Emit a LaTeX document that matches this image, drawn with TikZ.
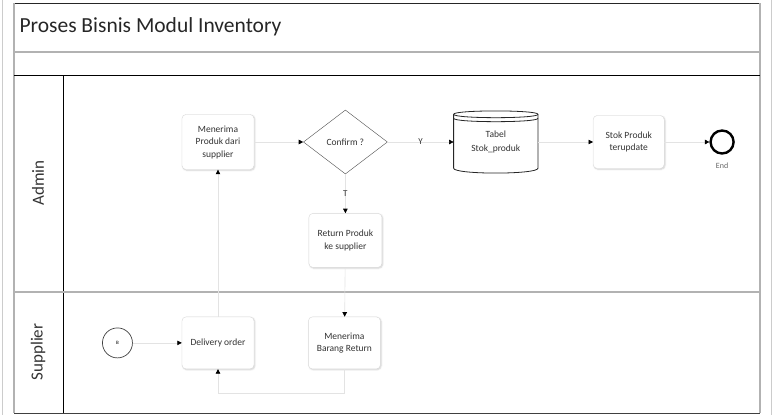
\documentclass[tikz,border=0pt]{standalone}
\usepackage{fontspec}
\setmainfont{Carlito}
\usetikzlibrary{positioning,calc,arrows.meta,shapes.geometric,shadows.blur,backgrounds}

\tikzset{
	task/.style={draw=gray!30, rounded corners=4pt, fill=white, align=center, minimum width=72pt, minimum height=53pt, inner sep=1pt, font=\fontsize{9.5}{12.5}\selectfont, text=black!80, blur shadow={shadow xshift=0.8pt, shadow yshift=-0.8pt, shadow blur radius=1.5pt, shadow opacity=20}},
	flow/.style={draw=gray!22, line width=0.6pt, -{Triangle[color=black, length=4.5pt, width=4.5pt]}},
	lanelabel/.style={rotate=90, font=\fontsize{17}{19}\selectfont, text=black!80},
	lbl/.style={font=\fontsize{9}{11}\selectfont, text=black!80},
}

\begin{document}
\begin{tikzpicture}[x=1pt, y=-1pt]
		\useasboundingbox (0,0) rectangle (773,415);
		% pool and lanes
		\draw[gray!40] (2,0) -- (2,415);
		\draw[gray!40] (771,0) -- (771,415);
		\draw[black!85, line width=0.8pt] (14,3) -- (760,3);
		\draw[black!75, line width=1pt] (14,413) -- (760,413);
		\draw[gray!60, line width=1.3pt] (14,3) -- (14,413);
		\draw[gray!60, line width=1.3pt] (760,3) -- (760,413);
		\draw[gray!60, line width=1.3pt] (14,52) -- (760,52);
		\draw[black, line width=0.6pt] (14,75) -- (760,75);
		\draw[black, line width=0.8pt] (63,75) -- (63,413);
		\draw[gray!60, line width=1.3pt] (14,292) -- (760,292);
		\node[anchor=west, font=\fontsize{21.5}{24}\selectfont, text=black!85] (judul) at (16,27) {Proses Bisnis Modul Inventory};
		\node[lanelabel] (admin) at (38,183) {Admin};
		\node[lanelabel] (supplier) at (38,352) {Supplier};
		% tasks
		\node[task, minimum height=55pt] (terima) at (218,142) {Menerima\\Produk dari\\supplier};
		\node[diamond, draw=black!70, fill=white, minimum width=84pt, minimum height=64pt, inner sep=0pt, font=\fontsize{9.5}{12.5}\selectfont, text=black!80, right=49pt of terima] (konfirm) {Confirm ?};
		\node[minimum width=84pt, minimum height=62pt, inner sep=0pt, align=center, font=\fontsize{9.5}{14}\selectfont, text=black!80, right=66pt of konfirm] (tabel) {Tabel\\Stok\_produk};
		\node[task, minimum width=71pt, right=55pt of tabel] (stok) {Stok Produk\\terupdate};
		\node[circle, draw=black, line width=2.4pt, minimum size=23pt, inner sep=0pt, right=45pt of stok, label={[lbl, font=\fontsize{8}{10}\selectfont, text=black!60, yshift=-5pt]below:End}] (selesai) {};
		\node[task, minimum width=73pt, minimum height=54pt, below=39pt of konfirm] (retur) {Return Produk\\ke supplier};
		\node[task, minimum height=52pt, below=147pt of terima] (deliv) {Delivery order};
		\node[circle, draw=black!75, line width=0.7pt, minimum size=30pt, inner sep=0pt, font=\fontsize{5}{6}\selectfont, left=49pt of deliv] (mulai) {B};
		\node[task, minimum height=52pt, right=54pt of deliv] (barang) {Menerima\\Barang Return};
		% cylinder
		\begin{scope}[on background layer]
		\draw[black!85, line width=0.8pt, fill=white] ($(tabel.north west)+(0,3.5)$) -- ($(tabel.south west)+(0,-5)$)
			.. controls ($(tabel.south west)+(0,1.5)$) and ($(tabel.south east)+(0,1.5)$) .. ($(tabel.south east)+(0,-5)$)
			-- ($(tabel.north east)+(0,3.5)$)
			.. controls ($(tabel.north east)+(0,-1)$) and ($(tabel.north west)+(0,-1)$) .. ($(tabel.north west)+(0,3.5)$);
		\draw[black!85, line width=0.8pt] ($(tabel.north west)+(0,3.5)$)
			.. controls ($(tabel.north west)+(0,8)$) and ($(tabel.north east)+(0,8)$) .. ($(tabel.north east)+(0,3.5)$);
		\draw[black!85, line width=0.8pt] ($(tabel.north west)+(0,7.5)$)
			.. controls ($(tabel.north west)+(0,12)$) and ($(tabel.north east)+(0,12)$) .. ($(tabel.north east)+(0,7.5)$);
		\end{scope}
		% flows
		\draw[flow] (mulai) -- (deliv);
		\draw[flow] (deliv) -- (terima);
		\draw[flow] (terima) -- (konfirm);
		\draw[flow] (konfirm) -- node[lbl] {Y} (tabel);
		\draw[flow] (konfirm) -- node[lbl] {T} (retur);
		\draw[flow] (tabel) -- (stok);
		\draw[flow] (stok) -- (selesai);
		\draw[flow] (retur) -- (barang);
		\draw[flow] (barang.south) -- ++(0,24) -| (deliv.south);
	\end{tikzpicture}
\end{document}
